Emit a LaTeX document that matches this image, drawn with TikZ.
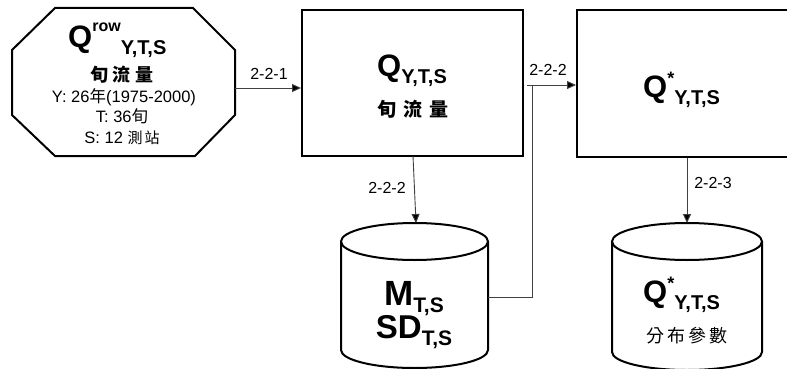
\documentclass[tikz,border=0pt]{standalone}
\usepackage{fontspec}
\setmainfont{Liberation Sans}
\newfontfamily\cjk{Noto Sans CJK TC}
\usetikzlibrary{arrows.meta}
\tikzset{
  thickline/.style={line width=2pt, draw=black},
  box/.style={thickline, rectangle, inner sep=0pt},
  conn/.style={line width=0.9pt, draw=black!75, -{Triangle[length=9pt,width=8pt,fill=black]}},
  plainconn/.style={line width=0.9pt, draw=black!75},
  lbl/.style={font=\fontsize{16}{16}\selectfont, inner sep=0pt},
  txt/.style={inner sep=0pt, align=center}
}
\newcommand{\bigQ}{\fontsize{31}{31}\selectfont\bfseries Q}
\newcommand{\subYTS}{\raisebox{-7pt}{\fontsize{20}{20}\selectfont\bfseries Y,T,S}}
\begin{document}
\begin{tikzpicture}[x=1pt,y=-1pt]
\useasboundingbox (0,0) rectangle (787,369);
\clip (0,0) rectangle (787,369);
% octagon
\draw[thickline, fill=white] (55,8) -- (193,8) -- (235,50) -- (235,115) -- (195,156) -- (55,156) -- (12,115) -- (12,50) -- cycle;
\coordinate (octE) at (235,88);
\node[txt, anchor=base west] (octQ) at (68,48) {\bigQ\raisebox{16pt}{\fontsize{16}{16}\selectfont\bfseries row}\subYTS};
\node[txt] (oct1) at (122,75) {\fontsize{18}{18}\selectfont\cjk\bfseries 旬\hspace{5pt}流\hspace{5pt}量};
\node[txt, anchor=base] (oct2) at (124,102) {\fontsize{16.5}{16.5}\selectfont Y: 26{\cjk 年}(1975-2000)};
\node[txt, anchor=base] (oct3) at (122,122) {\fontsize{16.5}{16.5}\selectfont T: 36{\cjk 旬}};
\node[txt, anchor=base] (oct4) at (122,143) {\fontsize{16.5}{16.5}\selectfont S: 12 {\cjk\fontsize{15}{15}\selectfont 測\hspace{2pt}站}};
% boxes
\node[box, minimum width=221pt, minimum height=146pt] (b1) at (412.5,83) {};
\node[box, minimum width=226pt, minimum height=147pt] (b2) at (690,83.5) {};
\node[txt, anchor=base] (b1q) at (412,77) {\bigQ\subYTS};
\node[txt] (b1c) at (413,109) {\fontsize{19}{19}\selectfont\cjk\bfseries 旬\hspace{7pt}流\hspace{7pt}量};
\node[txt, anchor=base west] (b2q) at (643,97) {\bigQ\raisebox{13pt}{\fontsize{18}{18}\selectfont\bfseries *}\subYTS};
% cylinder 1
\draw[thickline, fill=white] (341,241.5) -- (341,350) arc[start angle=180, end angle=360, x radius=73.5pt, y radius=18pt] -- (488,241.5);
\draw[thickline] (414.5,241.5) ellipse [x radius=73.5pt, y radius=18.5pt];
\node[txt, anchor=base] (c1a) at (414,305) {\fontsize{35}{35}\selectfont\bfseries M\raisebox{-7pt}{\fontsize{21}{21}\selectfont T,S}};
\node[txt, anchor=base] (c1b) at (414,338) {\fontsize{33}{33}\selectfont\bfseries SD\raisebox{-7pt}{\fontsize{21}{21}\selectfont T,S}};
% cylinder 2
\draw[thickline, fill=white] (612,241.5) -- (612,352) arc[start angle=180, end angle=360, x radius=75pt, y radius=18pt] -- (762,241.5);
\draw[thickline] (687,241.5) ellipse [x radius=75pt, y radius=18.5pt];
\node[txt, anchor=base west] (c2q) at (643,302) {\bigQ\raisebox{13pt}{\fontsize{18}{18}\selectfont\bfseries *}\subYTS};
\node[txt] (c2c) at (687,336) {\fontsize{18}{18}\selectfont\cjk 分\hspace{3pt}布\hspace{3pt}參\hspace{3pt}數};
% connector coordinates
\coordinate (c1N) at (416,223);
\coordinate (c1E) at (488,297);
\coordinate (c2N) at (687,223);
\coordinate (j) at (532,85);
\coordinate (stub) at (527,85);
\coordinate (b1S) at (413,156);
% connectors
\draw[conn] (octE) -- (octE -| b1.west);
\node[lbl] (l1) at (269,74) {2-2-1};
\draw[conn] (b1S) -- (c1N);
\node[lbl] (l2) at (387,188) {2-2-2};
\draw[plainconn] (c1E) -| (j);
\draw[conn] (stub) -- (stub -| b2.west);
\node[lbl] (l3) at (548,70) {2-2-2};
\draw[conn] (b2.south -| c2N) -- (c2N);
\node[lbl] (l4) at (713,183) {2-2-3};
\end{tikzpicture}
\end{document}
